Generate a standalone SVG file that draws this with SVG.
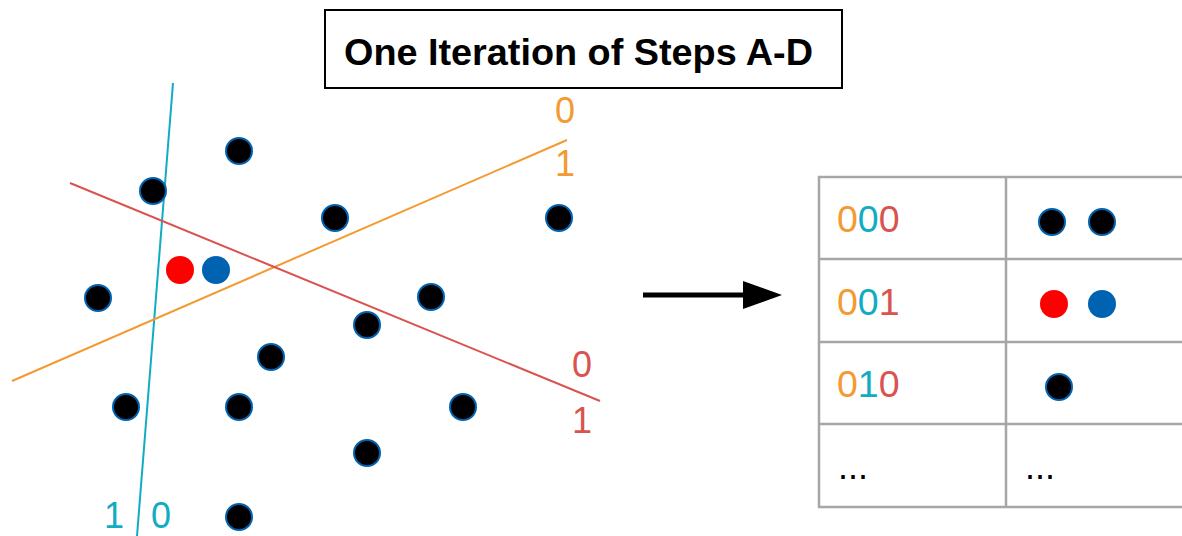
<svg xmlns="http://www.w3.org/2000/svg" width="1182" height="536" viewBox="0 0 1182 536">
  <style>
    .pt { fill: #000; stroke: #0063B1; stroke-width: 2; }
    .lbl { font-family: "Liberation Sans", Arial, sans-serif; font-size: 36px; }
    .cell { font-family: "Liberation Sans", Arial, sans-serif; font-size: 37.5px; }
    .org { fill: #F39A32; }
    .cyn { fill: #12ACC2; }
    .red { fill: #D9534F; }
    .grid { stroke: #A6A6A6; stroke-width: 2.5; fill: none; }
  </style>
  <rect width="1182" height="536" fill="#fff"/>

  <!-- title -->
  <g id="title">
    <rect x="325" y="10" width="517" height="78" fill="#fff" stroke="#000" stroke-width="2"/>
    <text x="344" y="65" font-family="Liberation Sans, Arial, sans-serif" font-weight="bold" font-size="37.8" fill="#000">One Iteration of Steps A-D</text>
  </g>

  <!-- splitting lines -->
  <g id="splits" fill="none" stroke-width="2">
    <line x1="173" y1="83" x2="137" y2="536" stroke="#12ACC2"/>
    <line x1="12" y1="381" x2="567" y2="140" stroke="#F39A32"/>
    <line x1="70" y1="183" x2="600" y2="401" stroke="#D9534F"/>
  </g>
  <g id="split-labels" class="lbl" text-anchor="middle">
    <text x="565" y="123" class="org">0</text>
    <text x="565" y="176" class="org">1</text>
    <text x="582" y="377" class="red">0</text>
    <text x="582" y="433" class="red">1</text>
    <text x="114" y="528" class="cyn">1</text>
    <text x="161" y="528" class="cyn">0</text>
  </g>

  <!-- points -->
  <g id="points">
    <circle class="pt" cx="239" cy="151" r="13"/>
    <circle class="pt" cx="153" cy="191" r="13"/>
    <circle class="pt" cx="335" cy="218" r="13"/>
    <circle class="pt" cx="559" cy="218" r="13"/>
    <circle class="pt" cx="98" cy="298" r="13"/>
    <circle class="pt" cx="431" cy="297" r="13"/>
    <circle class="pt" cx="367" cy="325" r="13"/>
    <circle class="pt" cx="271" cy="357" r="13"/>
    <circle class="pt" cx="126" cy="407" r="13"/>
    <circle class="pt" cx="239" cy="407" r="13"/>
    <circle class="pt" cx="463" cy="407" r="13"/>
    <circle class="pt" cx="367" cy="453" r="13"/>
    <circle class="pt" cx="239" cy="517" r="13"/>
    <circle cx="180" cy="270" r="14" fill="#FF0000"/>
    <circle cx="216" cy="270" r="14" fill="#0063B1"/>
  </g>

  <!-- arrow -->
  <g id="arrow">
    <line x1="643" y1="295" x2="745" y2="295" stroke="#000" stroke-width="5"/>
    <polygon points="743,281 782,295 743,309" fill="#000"/>
  </g>

  <!-- hash table -->
  <g id="table">
    <path class="grid" d="M1182,177 H819 V507 H1182 M1006,177 V507 M819,259 H1182 M819,342 H1182 M819,424 H1182"/>
    <text class="cell" x="837" y="232"><tspan class="org">0</tspan><tspan class="cyn">0</tspan><tspan class="red">0</tspan></text>
    <text class="cell" x="837" y="315"><tspan class="org">0</tspan><tspan class="cyn">0</tspan><tspan class="red">1</tspan></text>
    <text class="cell" x="837" y="397"><tspan class="org">0</tspan><tspan class="cyn">1</tspan><tspan class="red">0</tspan></text>
    <text class="lbl" x="838" y="479" fill="#000">...</text>
    <text class="lbl" x="1025" y="479" fill="#000">...</text>
    <circle class="pt" cx="1052" cy="222" r="13"/>
    <circle class="pt" cx="1102" cy="222" r="13"/>
    <circle cx="1054" cy="304" r="14" fill="#FF0000"/>
    <circle cx="1102" cy="304" r="14" fill="#0063B1"/>
    <circle class="pt" cx="1059" cy="387" r="13"/>
  </g>
</svg>
